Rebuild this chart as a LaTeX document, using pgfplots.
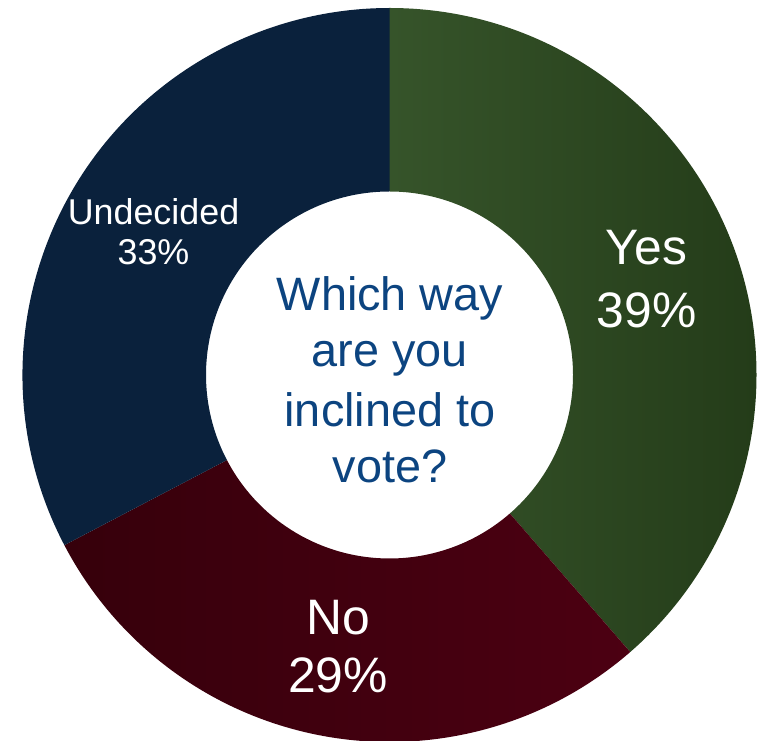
\documentclass[border=0pt]{standalone}
\usepackage{pgfplots}
\usepackage{pgfplotstable}
\pgfplotsset{compat=1.18}
\usepackage{fontspec}
\setmainfont{Liberation Sans}
\definecolor{yesL}{RGB}{54,84,42}
\definecolor{yesR}{RGB}{36,60,25}
\definecolor{noL}{RGB}{54,0,11}
\definecolor{noR}{RGB}{76,0,18}
\definecolor{undec}{RGB}{10,33,60}
\definecolor{qblue}{RGB}{12,68,128}
\pgfplotstableread{
label value
Yes 39
No 29
Undecided 33
}\votes
\begin{document}
\begin{tikzpicture}
\begin{axis}[
  scale only axis, width=761bp, height=741bp,
  xmin=-389.5, xmax=371.5, ymin=-366, ymax=375,
  hide axis, xtick=\empty, ytick=\empty, clip=false]
\pgfplotsextra{
  \pgfplotstablegetelem{0}{value}\of\votes \let\vA\pgfplotsretval
  \pgfplotstablegetelem{1}{value}\of\votes \let\vB\pgfplotsretval
  \pgfplotstablegetelem{2}{value}\of\votes \let\vC\pgfplotsretval
  \pgfmathsetmacro\tot{\vA+\vB+\vC}
  \pgfmathsetmacro\aA{90}
  \pgfmathsetmacro\aB{90-360*\vA/\tot}
  \pgfmathsetmacro\aC{\aB-360*\vB/\tot}
  \pgfmathsetmacro\aD{\aC-360*\vC/\tot}
  \shade[left color=yesL, right color=yesR]
    ([shift={(\aA:367bp)}]axis cs:0,0) arc[start angle=\aA, end angle=\aB, radius=367bp]
    -- ([shift={(\aB:183.5bp)}]axis cs:0,0) arc[start angle=\aB, end angle=\aA, radius=183.5bp] -- cycle;
  \shade[left color=noL, right color=noR]
    ([shift={(\aB:367bp)}]axis cs:0,0) arc[start angle=\aB, end angle=\aC, radius=367bp]
    -- ([shift={(\aC:183.5bp)}]axis cs:0,0) arc[start angle=\aC, end angle=\aB, radius=183.5bp] -- cycle;
  \fill[undec]
    ([shift={(\aC:367bp)}]axis cs:0,0) arc[start angle=\aC, end angle=\aD, radius=367bp]
    -- ([shift={(\aD:183.5bp)}]axis cs:0,0) arc[start angle=\aD, end angle=\aC, radius=183.5bp] -- cycle;
}
% slice labels
\node[anchor=base, text=white, font=\fontsize{50}{60}\selectfont, inner sep=0pt] at (axis cs:257,110) {Yes};
\node[anchor=base, text=white, font=\fontsize{50}{60}\selectfont, inner sep=0pt] at (axis cs:257,47) {39\%};
\node[anchor=base, text=white, font=\fontsize{50}{60}\selectfont, inner sep=0pt] at (axis cs:-51.5,-260) {No};
\node[anchor=base, text=white, font=\fontsize{50}{60}\selectfont, inner sep=0pt] at (axis cs:-51.5,-318) {29\%};
\node[anchor=base, text=white, font=\fontsize{36}{42}\selectfont, inner sep=0pt] at (axis cs:-236,150) {Undecided};
\node[anchor=base, text=white, font=\fontsize{36}{42}\selectfont, inner sep=0pt] at (axis cs:-236,110) {33\%};
% centre question
\node[anchor=base, text=qblue, font=\fontsize{47}{56}\selectfont, inner sep=0pt] at (axis cs:0.5,64) {Which way};
\node[anchor=base, text=qblue, font=\fontsize{47}{56}\selectfont, inner sep=0pt] at (axis cs:0.5,8) {are you};
\node[anchor=base, text=qblue, font=\fontsize{47}{56}\selectfont, inner sep=0pt] at (axis cs:0.5,-52) {inclined to};
\node[anchor=base, text=qblue, font=\fontsize{47}{56}\selectfont, inner sep=0pt] at (axis cs:0.5,-108) {vote?};
\end{axis}
\pgfresetboundingbox
\path[use as bounding box] (current axis.south west) rectangle (current axis.north east);
\end{tikzpicture}
\end{document}
